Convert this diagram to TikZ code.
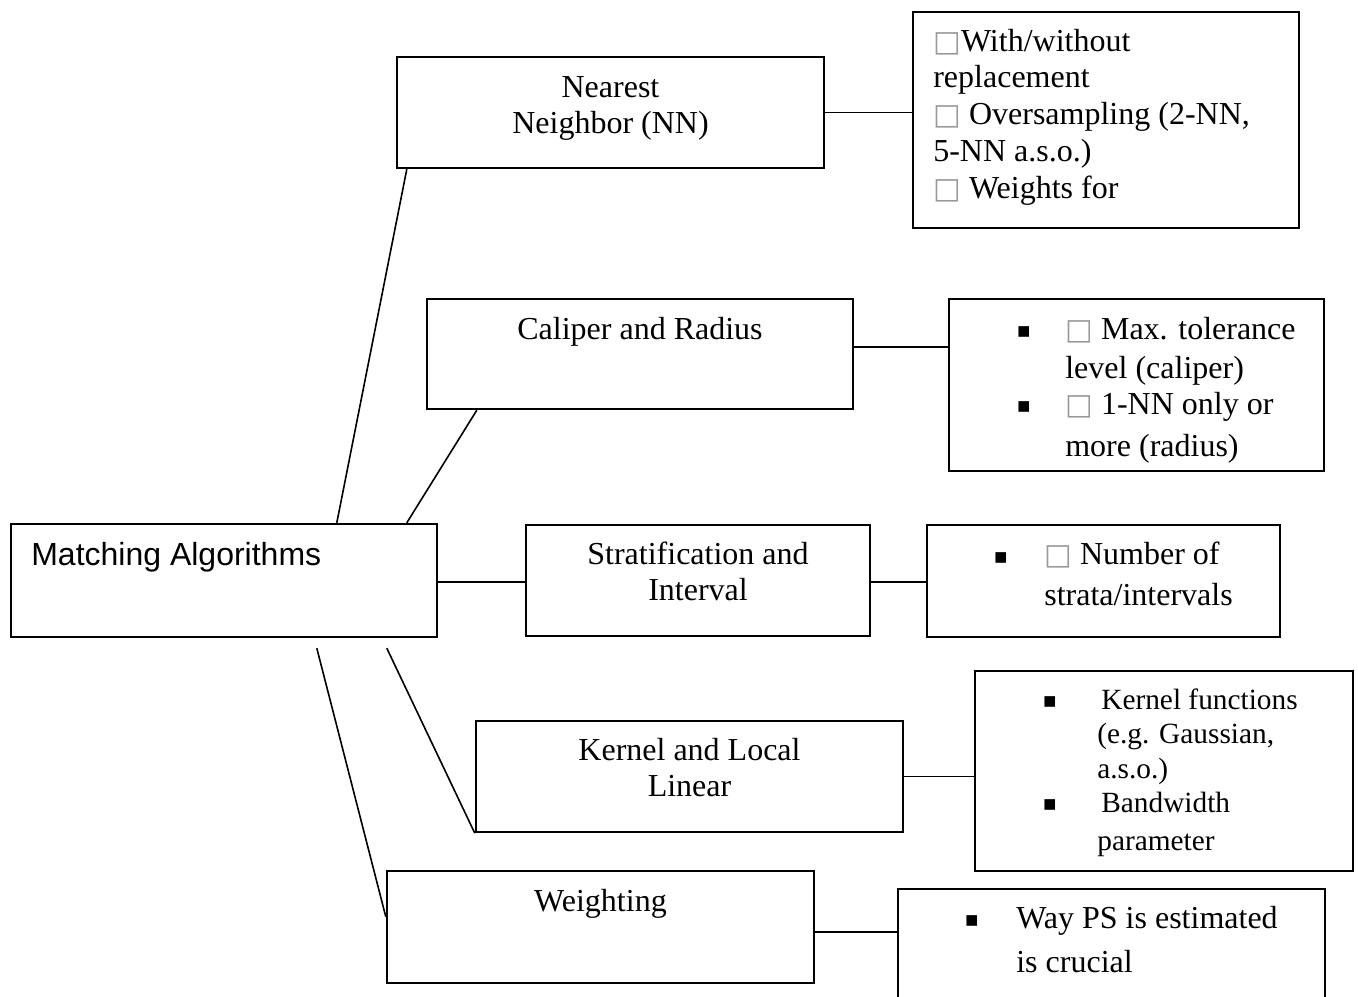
\documentclass[tikz,border=0pt]{standalone}
\usepackage{fontspec}
\setmainfont{Liberation Serif}
\newfontfamily\arialfont{Liberation Sans}
\newfontfamily\dejavu{DejaVu Sans}
\usetikzlibrary{calc}
\newcommand\wordsize{\fontsize{12}{13.8}\selectfont}
\newcommand\sqbox{{\dejavu\fontsize{11}{10}\selectfont\color{black!40}□}}
\newcommand\sqblt{{\dejavu\fontsize{8}{10}\selectfont ▪}}
\tikzset{
  box/.style={draw, line width=0.9pt, inner sep=0pt},
  wd/.style={minimum width=#1*0.375pt},
  ht/.style={minimum height=#1*0.375pt},
  ttl/.style={inner sep=0pt, align=center, anchor=north},
  lst/.style={inner sep=0pt, align=left, anchor=north west},
  blt/.style={inner sep=0pt, anchor=base},
  lnk/.style={line width=0.6pt}}
\begin{document}
\begin{tikzpicture}[x=0.375pt, y=-0.375pt, font=\wordsize]
\useasboundingbox (0,0) rectangle (1358,997);
\clip (0,0) rectangle (1358,997);
% boxes
\node[box, wd=426, ht=113] (ma) at (224,580.5) {};
\node[box, wd=427, ht=111] (nn) at (610.5,112.5) {};
\node[box, wd=386, ht=216] (nnd) at (1106,120) {};
\node[box, wd=426, ht=110] (cal) at (640,354) {};
\node[box, wd=375, ht=172] (cald) at (1136.5,385) {};
\node[box, wd=344, ht=111] (str) at (698,580.5) {};
\node[box, wd=353, ht=112] (strd) at (1103.5,581) {};
\node[box, wd=427, ht=111] (ker) at (689.5,776.5) {};
\node[box, wd=378, ht=200] (kerd) at (1164,771) {};
\node[box, wd=427, ht=112] (wt) at (600.5,927) {};
\node[box, wd=427, ht=151] (wtd) at (1111.5,964.5) {};
% titles
\node[lst, font=\arialfont\wordsize] (mat) at ($(ma.north west)+(21,16)$) {\strut Matching Algorithms};
\node[ttl] (nnt) at ($(nn.north)+(0,15)$) {\strut Nearest\\Neighbor (NN)};
\node[ttl] (calt) at ($(cal.north)+(0,15)$) {\strut Caliper and Radius};
\node[ttl] (strt) at ($(str.north)+(0,14)$) {\strut Stratification and\\Interval};
\node[ttl] (kert) at ($(ker.north)+(0,14)$) {\strut Kernel and Local\\Linear};
\node[ttl] (wtt) at ($(wt.north)+(0,15)$) {\strut Weighting};
% details
\node[lst] (nndt) at ($(nnd.north west)+(21,14)$) {\strut\sqbox With/without\\replacement\\\sqbox\ Oversampling (2-NN,\\5-NN a.s.o.)\\\sqbox\ Weights for};
\node[lst] (caldt1) at ($(cald.north west)+(117,15)$) {\strut\sqbox\ Max. tolerance\\[1pt]level (caliper)};
\node[lst] (caldt2) at ($(cald.north west)+(117,90)$) {\strut\sqbox\ 1-NN only or\\[2pt]more (radius)};
\node[blt] (caldb1) at ($(cald.north west)+(76,40)$) {\sqblt};
\node[blt] (caldb2) at ($(cald.north west)+(76,115)$) {\sqblt};
\node[lst, font=\fontsize{12}{15.2}\selectfont] (strdt) at ($(strd.north west)+(118,12)$) {\strut\sqbox\ Number of\\strata/intervals};
\node[blt] (strdb) at ($(strd.north west)+(75,40)$) {\sqblt};
\node[lst, font=\fontsize{11}{12.9}\selectfont] (kerdt1) at ($(kerd.north west)+(123,15)$) {\strut\hspace{1.5pt}Kernel functions\\(e.g. Gaussian,\\a.s.o.)};
\node[lst, font=\fontsize{11}{12.9}\selectfont] (kerdt2) at ($(kerd.north west)+(123,118)$) {\strut\hspace{1.5pt}Bandwidth\\[1.5pt]parameter};
\node[blt] (kerdb1) at ($(kerd.north west)+(76,38)$) {\sqblt};
\node[blt] (kerdb2) at ($(kerd.north west)+(76,141)$) {\sqblt};
\node[lst, font=\fontsize{12}{16.5}\selectfont] (wtdt) at ($(wtd.north west)+(119,9)$) {\strut Way PS is estimated\\is crucial};
\node[blt] (wtdb) at ($(wtd.north west)+(75,39)$) {\sqblt};
% links
\draw[lnk] ($(ma.north west)+(327,0)$) -- ($(nn.south west)+(11,0)$);
\draw[lnk] ($(ma.north west)+(397,0)$) -- ($(cal.south west)+(51,0)$);
\draw[lnk] ($(ma.east)+(0,1.5)$) coordinate (mao) -- (mao -| str.west);
\draw[lnk] ($(ma.south west)+(377,10)$) -- (ker.south west);
\draw[lnk] ($(ma.south west)+(307,10)$) -- ($(wt.north west)+(0,47)$);
\draw[lnk] (nn.east) -- (nn.east -| nnd.west);
\draw[lnk] ($(cal.north east)+(0,49)$) coordinate (calo) -- (calo -| cald.west);
\draw[lnk] ($(str.east)+(0,1.5)$) coordinate (stro) -- (stro -| strd.west);
\draw[lnk] (ker.east) -- (ker.east -| kerd.west);
\draw[lnk] ($(wt.east)+(0,5)$) coordinate (wto) -- (wto -| wtd.west);
\end{tikzpicture}
\end{document}
